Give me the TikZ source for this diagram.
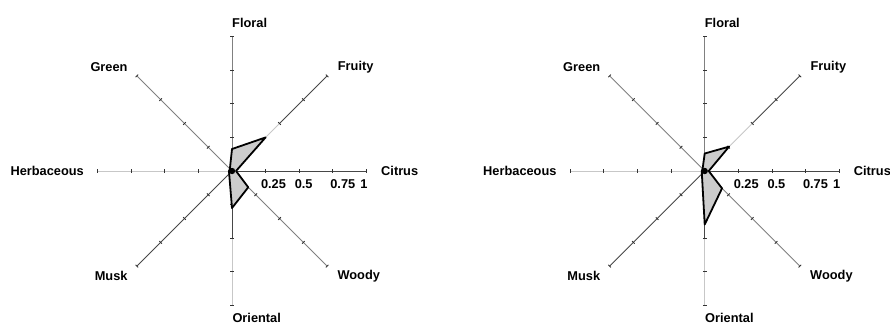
\documentclass[tikz,border=0pt]{standalone}
\usepackage{fontspec}
\setmainfont{Liberation Sans}
\tikzset{
  lab/.style={font=\bfseries\fontsize{12.8}{14}\selectfont, inner sep=0pt},
  axlight/.style={draw=black!22, line width=0.9pt},
  axmid/.style={draw=black!50, line width=0.9pt},
  axdark/.style={draw=black!72, line width=0.9pt},
  tickmark/.style={draw=black!80, line width=0.9pt},
  poly/.style={draw=black, line width=1.8pt, fill=black!20, line join=round},
}
\newcommand\drawradar[7]{%
  \begin{scope}[shift={(#2,#3)}]
    \coordinate (#1c) at (0,0);
    \foreach \a/\n in {90/fl,45/fr,0/ci,-45/wo,-90/or,-135/mu,180/he,135/gr}{
      \coordinate (#1\n) at (\a:134.5);
      \coordinate (#1\n h) at (\a:67.25);
    }
    \draw[axmid] (#1c) -- (#1fl);
    \draw[axlight] (#1c) -- (#1frh);
    \draw[axdark] (#1frh) -- (#1fr);
    \draw[axdark] (#1c) -- (#1ci);
    \draw[axmid] (#1c) -- (#1wo);
    \draw[axdark] (#1c) -- (#1orh);
    \draw[axlight] (#1orh) -- (#1or);
    \draw[axdark] (#1c) -- (#1mu);
    \draw[axlight] (#1c) -- (#1he);
    \draw[axmid] (#1c) -- (#1gr);
    \foreach \a in {90,45,0,-45,-90,-135,180,135}{
      \foreach \r in {33.6,67.25,100.9,134.5}{
        \draw[tickmark, rotate=\a] (\r,-1.8) -- (\r,1.8);
      }
    }
    \draw[poly] (90:#4) -- (45:#5) -- (0:4) -- (-45:#6) -- (-90:#7) -- (-135:4) -- (180:3) -- (135:3) -- cycle;
    \fill (#1c) circle (3.2);
    \node[lab, anchor=west] (#1Lfl) at (0,148) {Floral};
    \node[lab, anchor=west] (#1Lfr) at (105.7,104) {Fruity};
    \node[lab, anchor=west] (#1Lci) at (149,0) {Citrus};
    \node[lab, anchor=west] (#1Lwo) at (105.3,-105) {Woody};
    \node[lab, anchor=west] (#1Lor) at (0.3,-147) {Oriental};
    \node[lab, anchor=east] (#1Lmu) at (-104.3,-105) {Musk};
    \node[lab, anchor=east] (#1Lhe) at (-148,0) {Herbaceous};
    \node[lab, anchor=east] (#1Lgr) at (-104.3,104) {Green};
    \node[lab] (#1Ta) at (41.5,-13) {0.25};
    \node[lab] (#1Tb) at (71.7,-13) {0.5};
    \node[lab] (#1Tc) at (110.8,-13) {0.75};
    \node[lab] (#1Td) at (132,-13) {1};
  \end{scope}%
}
\begin{document}
\begin{tikzpicture}[x=1pt,y=1pt]
  \useasboundingbox (0,0) rectangle (890,-325);
  \drawradar{L}{232}{-171}{22}{47.5}{23}{37}
  \drawradar{R}{704.7}{-171}{17.5}{34.5}{24.5}{53.5}
\end{tikzpicture}
\end{document}
